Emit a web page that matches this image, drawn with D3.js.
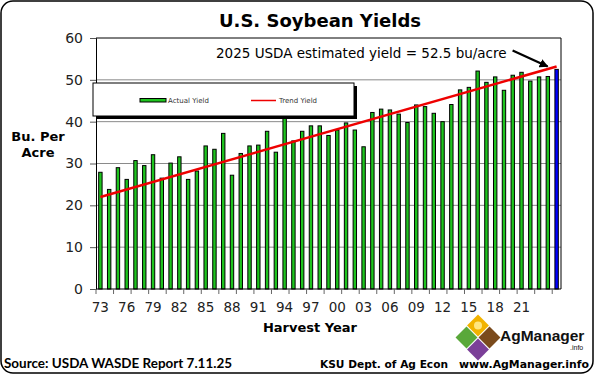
<!DOCTYPE html>
<html><head><meta charset="utf-8">
<script src="https://cdn.jsdelivr.net/npm/d3@7/dist/d3.min.js"></script>
<style>html,body{margin:0;padding:0;background:#fff;}svg{display:block;}</style>
</head><body>
<script>
// ---- data ----
const years = [1973,1974,1975,1976,1977,1978,1979,1980,1981,1982,1983,1984,1985,1986,1987,1988,1989,1990,1991,1992,1993,1994,1995,1996,1997,1998,1999,2000,2001,2002,2003,2004,2005,2006,2007,2008,2009,2010,2011,2012,2013,2014,2015,2016,2017,2018,2019,2020,2021,2022,2023,2024,2025];
const actualYield = [27.9,23.8,29.0,26.2,30.7,29.5,32.1,26.5,30.1,31.6,26.2,28.2,34.2,33.4,37.2,27.2,32.4,34.2,34.4,37.7,32.7,41.4,35.4,37.7,39.0,39.0,36.7,38.0,39.7,38.0,34.0,42.2,43.0,42.8,41.8,39.8,44.0,43.6,42.0,40.0,44.1,47.6,48.2,52.1,49.4,50.7,47.5,51.1,51.8,49.7,50.7,50.8,52.5];
const trendYears = [1973, 2025];
const trendValues = [22.0, 53.2];
const xTickYears = [1973,1976,1979,1982,1985,1988,1991,1994,1997,2000,2003,2006,2009,2012,2015,2018,2021];
const xTickLabels = ["73","76","79","82","85","88","91","94","97","00","03","06","09","12","15","18","21"];
const yTicks = [0,10,20,30,40,50,60];
const estimateYear = 2025;

const W = 595, H = 375;
const L = 96, R = 561, T = 38, B = 289;
const svg = d3.select("body").append("svg").attr("width", W).attr("height", H);
const font = "'DejaVu Sans', Verdana, sans-serif";

svg.append("rect").attr("x",1).attr("y",1).attr("width",W-3).attr("height",H-3)
  .attr("rx",12).attr("fill","#fff").attr("stroke","#000").attr("stroke-width",1.5);

const x = d3.scaleBand().domain(years).range([L, R]).padding(0);
const y = d3.scaleLinear().domain([0, 60]).range([B, T]);
const bw = x.bandwidth();

// gridlines
svg.append("g").selectAll("line").data(yTicks.filter(d => d > 0 && d < 60)).join("line")
  .attr("x1", L).attr("x2", R).attr("y1", d => y(d)).attr("y2", d => y(d))
  .attr("stroke", "#8a8a8a").attr("stroke-width", 1);

// plot frame top/right
svg.append("path").attr("d", `M${L},${y(60)}H${R}V${B}`).attr("fill","none").attr("stroke","#000").attr("stroke-width",1);

// y axis
const yAxis = d3.axisLeft(y).tickValues(yTicks).tickSize(6).tickPadding(7);
const gy = svg.append("g").attr("transform", `translate(${L},0)`).call(yAxis);
gy.select(".domain").attr("stroke","#000");
gy.selectAll(".tick line").attr("stroke","#555");
gy.selectAll("text").attr("font-family", font).attr("font-size", 14).attr("fill","#222");

// bars
svg.append("g").selectAll("rect").data(years).join("rect")
  .attr("x", (d) => x(d) + bw/2 - 1.7)
  .attr("width", 3.4)
  .attr("y", (d,i) => y(actualYield[i]))
  .attr("height", (d,i) => B - y(actualYield[i]))
  .attr("fill", d => d === estimateYear ? "#0000ff" : "#1ec41e")
  .attr("stroke", "#000").attr("stroke-width", 1);

// x axis
svg.append("line").attr("x1", L).attr("x2", R).attr("y1", B).attr("y2", B).attr("stroke","#000");
svg.append("g").selectAll("line").data(years.filter((d,i) => i % 2 === 0)).join("line")
  .attr("x1", d => x(d)).attr("x2", d => x(d)).attr("y1", B).attr("y2", B + 5)
  .attr("stroke", "#666");
svg.append("g").selectAll("text").data(xTickYears).join("text")
  .attr("x", d => x(d) + bw/2).attr("y", B + 23)
  .attr("text-anchor", "middle").attr("font-family", font).attr("font-size", 13.5).attr("fill","#222")
  .text((d,i) => xTickLabels[i]);

// trend line
const line = d3.line().x(d => x(d[0]) + bw/2).y(d => y(d[1]));
svg.append("path").datum(trendYears.map((d,i) => [d, trendValues[i]]))
  .attr("d", line).attr("fill","none").attr("stroke","#ee0000").attr("stroke-width",2.5);

// legend
svg.append("rect").attr("x", 96).attr("y", 86).attr("width", 261).attr("height", 33).attr("fill", "#000");
svg.append("rect").attr("x", 93).attr("y", 83).attr("width", 261).attr("height", 33).attr("fill", "#fff").attr("stroke","#000").attr("stroke-width",1);
svg.append("rect").attr("x", 140).attr("y", 98.5).attr("width", 26).attr("height", 3.5).attr("fill","#1ec41e").attr("stroke","#000").attr("stroke-width",1);
svg.append("text").attr("x", 168).attr("y", 103).attr("font-family", font).attr("font-size", 7).attr("fill","#333").text("Actual Yield");
svg.append("line").attr("x1", 251).attr("x2", 276).attr("y1", 100.5).attr("y2", 100.5).attr("stroke","#ee0000").attr("stroke-width",1.5);
svg.append("text").attr("x", 279).attr("y", 103).attr("font-family", font).attr("font-size", 7).attr("fill","#333").text("Trend Yield");

// annotation
svg.append("text").attr("x", 216).attr("y", 58).attr("font-family", font).attr("font-size", 13.5).attr("fill","#000")
  .text("2025 USDA estimated yield = 52.5 bu/acre");
const tipX = x(estimateYear) + bw/2 - 9, tipY = y(trendValues[1]);
svg.append("defs").append("marker").attr("id","arr").attr("viewBox","0 0 10 10").attr("refX",9).attr("refY",5)
  .attr("markerWidth",4).attr("markerHeight",4).attr("orient","auto")
  .append("path").attr("d","M0,0L10,5L0,10z").attr("fill","#000");
svg.append("line").attr("x1", tipX - 35).attr("y1", tipY - 16).attr("x2", tipX).attr("y2", tipY)
  .attr("stroke","#000").attr("stroke-width",2.2).attr("marker-end","url(#arr)");

// titles
svg.append("text").attr("x", 320).attr("y", 27).attr("text-anchor","middle").attr("font-family", font)
  .attr("font-weight","bold").attr("font-size", 18).text("U.S. Soybean Yields");
svg.append("text").attr("x", 38).attr("y", 141).attr("text-anchor","middle").attr("font-family", font)
  .attr("font-weight","bold").attr("font-size", 13).text("Bu. Per");
svg.append("text").attr("x", 38).attr("y", 157).attr("text-anchor","middle").attr("font-family", font)
  .attr("font-weight","bold").attr("font-size", 13).text("Acre");
svg.append("text").attr("x", 310).attr("y", 332).attr("text-anchor","middle").attr("font-family", font)
  .attr("font-weight","bold").attr("font-size", 13).text("Harvest Year");

// footer
svg.append("text").attr("x", 4).attr("y", 368).attr("font-family", "Lato, 'Open Sans', sans-serif")
  .attr("font-weight","bold").attr("font-size", 14).attr("textLength", 228).attr("lengthAdjust","spacingAndGlyphs")
  .text("Source:  USDA WASDE Report 7.11.25");
svg.append("text").attr("x", 320).attr("y", 368).attr("font-family", font)
  .attr("font-weight","bold").attr("font-size", 10).attr("textLength", 128).attr("lengthAdjust","spacingAndGlyphs")
  .text("KSU Dept. of Ag Econ");
svg.append("text").attr("x", 459).attr("y", 368).attr("font-family", font)
  .attr("font-weight","bold").attr("font-size", 10).attr("textLength", 130).attr("lengthAdjust","spacingAndGlyphs")
  .text("www.AgManager.info");

// logo
const logo = svg.append("g").attr("transform","translate(478,337.5)");
const s = 15.5;
const diamonds = [[0,-12,"#f2b300"],[-11.5,0,"#5aa83a"],[11.5,0,"#7a4a1c"],[0,12,"#7b3f98"]];
diamonds.forEach(d => {
  logo.append("rect").attr("x", -s/2).attr("y", -s/2).attr("width", s).attr("height", s)
    .attr("fill", d[2]).attr("transform", `translate(${d[0]},${d[1]}) rotate(45)`);
});
logo.append("circle").attr("cx",0).attr("cy",-12).attr("r",4).attr("fill","#ffe680");
svg.append("text").attr("x", 500).attr("y", 341).attr("font-family","'Liberation Sans', Arial, sans-serif")
  .attr("font-weight","bold").attr("font-size", 15.5)
  .attr("fill","#111").text("AgManager");
svg.append("text").attr("x", 570).attr("y", 350).attr("font-family","'Liberation Sans', Arial, sans-serif")
  .attr("font-size", 7).attr("fill","#111").text(".info");
</script>
</body></html>
